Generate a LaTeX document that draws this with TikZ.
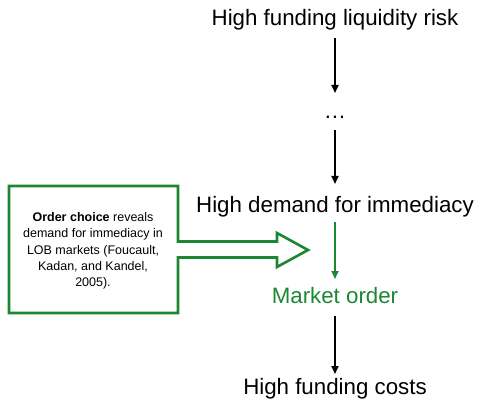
\documentclass[tikz,border=0pt]{standalone}
\usepackage{fontspec}
\setmainfont{Liberation Sans}
\usetikzlibrary{arrows.meta}
\definecolor{mygreen}{RGB}{28,135,50}
\begin{document}
\begin{tikzpicture}[x=1pt,y=-1pt,
  big/.style={font=\fontsize{22.3}{26}\selectfont, inner sep=0pt, anchor=center},
  conn/.style={line width=1.7pt, -{Triangle[width=7pt,length=8pt]}},
  small/.style={font=\fontsize{12.5}{16.3}\selectfont, align=center, inner sep=0pt}]
\useasboundingbox (0,0) rectangle (477,401);
\node[big] (risk) at (335,20) {High funding liquidity risk};
\node[big] (dots) at (335,117) {\dots};
\node[big] (dem) at (335,207) {High demand for immediacy};
\node[big, text=mygreen] (mo) at (335,296) {Market order};
\node[big] (cost) at (335,389) {High funding costs};
\coordinate (a1s) at (335,38); \coordinate (a1e) at (335,93);
\coordinate (a2s) at (335,130); \coordinate (a2e) at (335,184);
\coordinate (a3s) at (335,222); \coordinate (a3e) at (335,279);
\coordinate (a4s) at (335,316); \coordinate (a4e) at (335,374);
\draw[conn] (a1s) -- (a1e);
\draw[conn] (a2s) -- (a2e);
\draw[conn, mygreen] (a3s) -- (a3e);
\draw[conn] (a4s) -- (a4e);
\draw[mygreen, line width=2.6pt, line join=miter]
  (178,241.5) -- (178,186) -- (9,186) -- (9,313) -- (178,313) -- (178,257.5)
  -- (277,257.5) -- (277,267) -- (308,250) -- (277,233) -- (277,241.5) -- cycle;
\node[small] (box) at (93,251) {\textbf{Order choice} reveals\\demand for immediacy in\\LOB markets (Foucault,\\Kadan, and Kandel,\\2005).};
\end{tikzpicture}
\end{document}
